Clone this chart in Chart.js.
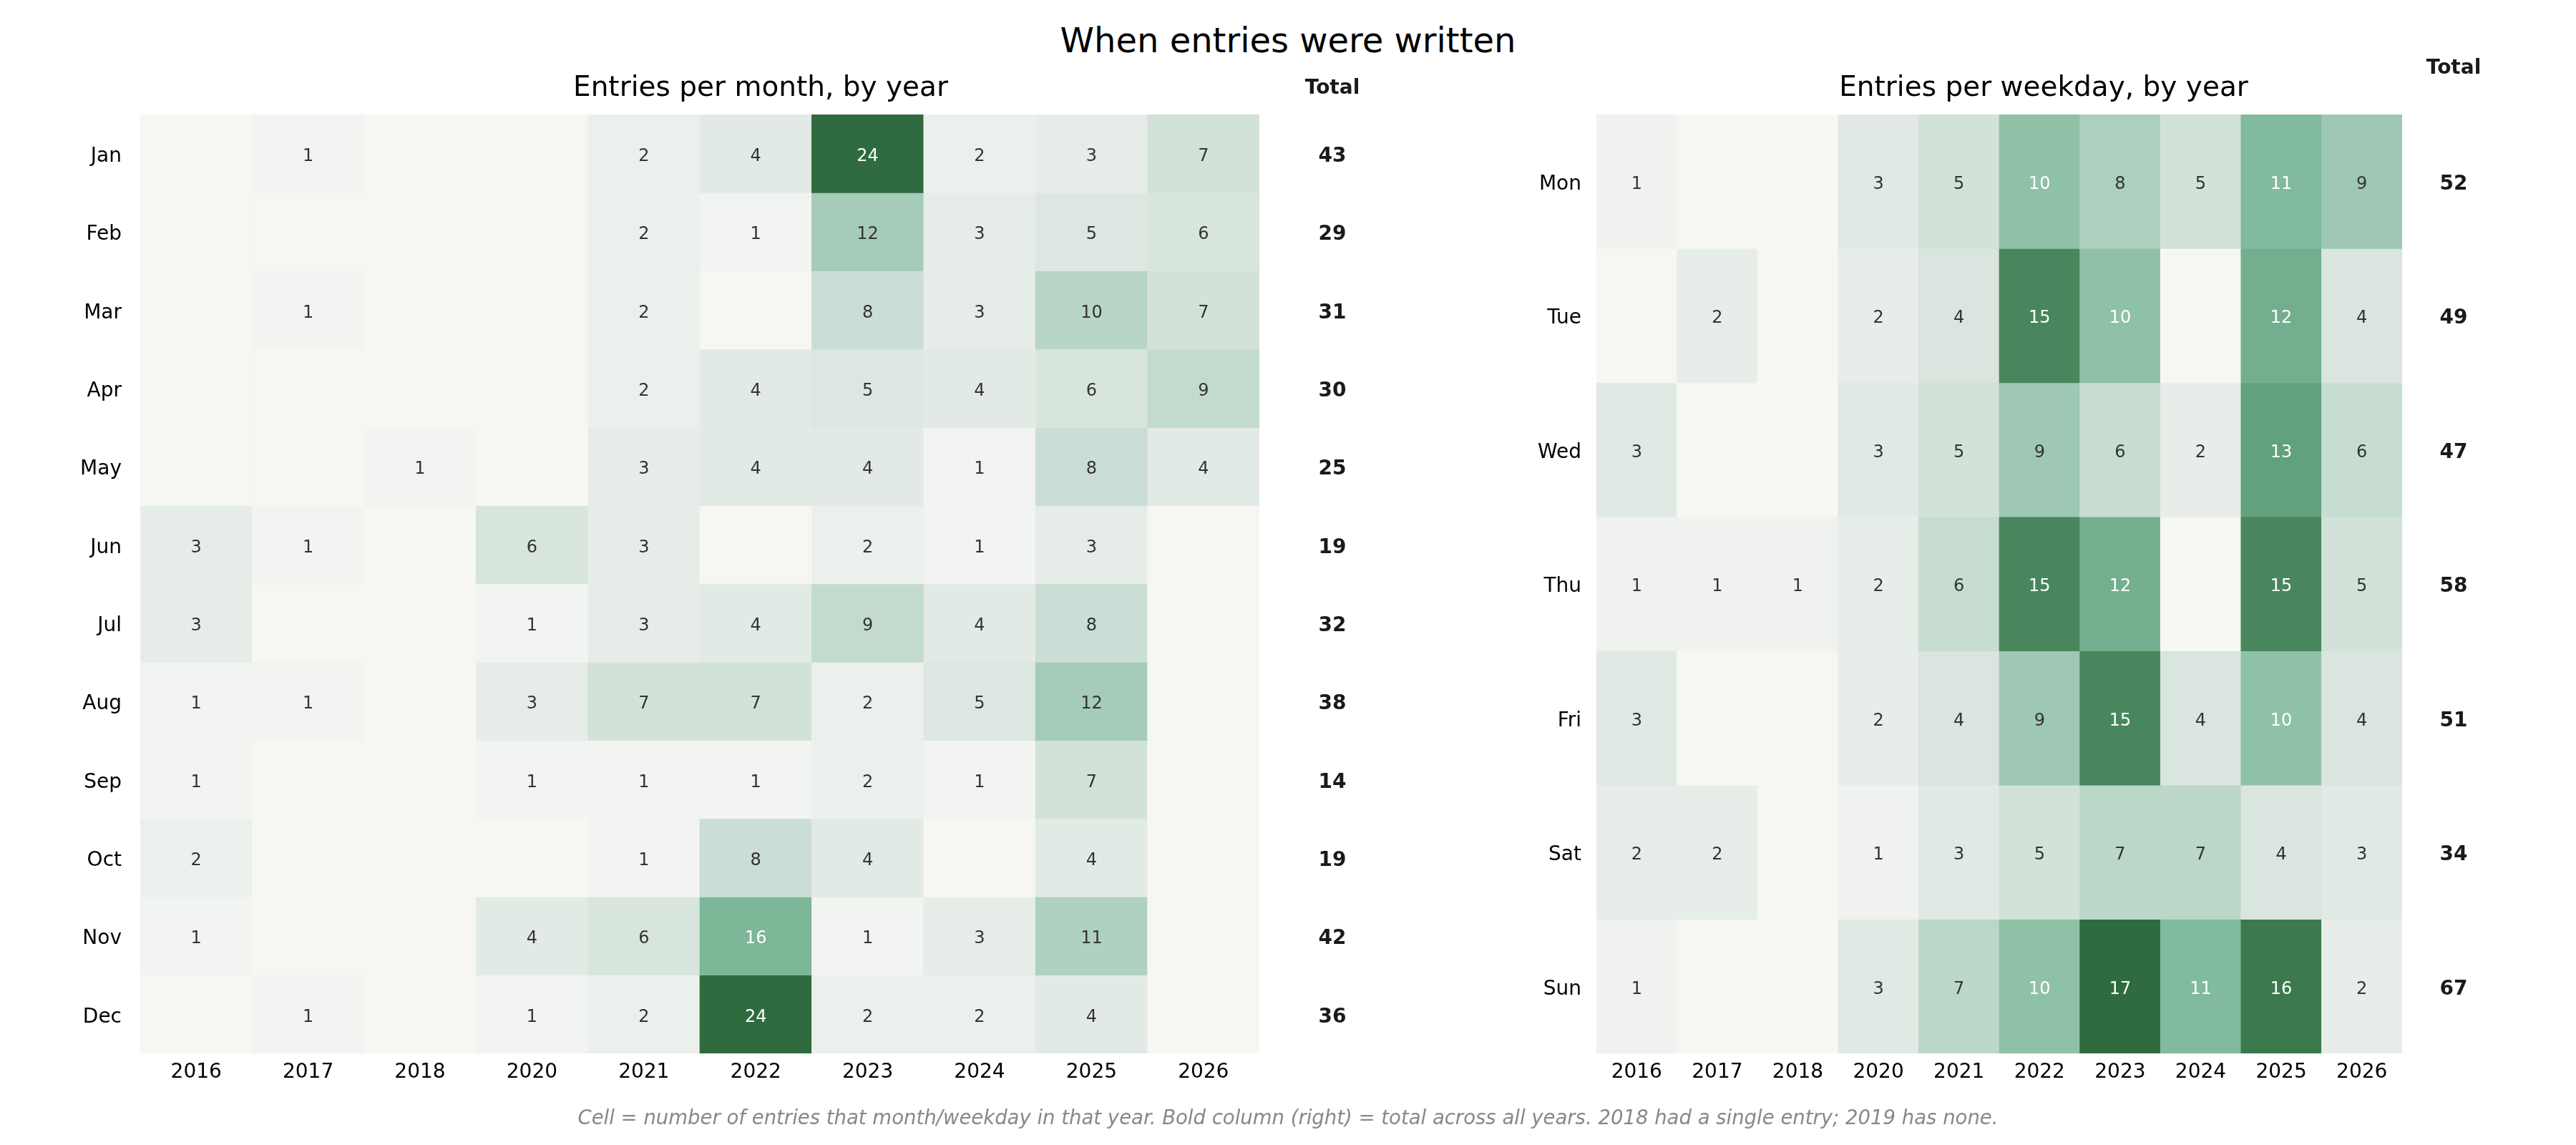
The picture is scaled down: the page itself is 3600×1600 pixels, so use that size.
<!DOCTYPE html>
<html>
<head>
<meta charset="utf-8">
<title>When entries were written</title>
<script src="https://cdn.jsdelivr.net/npm/chart.js@4.4.1/dist/chart.umd.min.js"></script>
<style>
    html, body { margin: 0; padding: 0; background: #ffffff; }
    body { width: 3600px; height: 1600px; position: relative; overflow: hidden; font-family: 'DejaVu Sans', sans-serif; }
    canvas { position: absolute; top: 0; }
    #leftChart { left: 0; }
    #rightChart { left: 2000px; }
    .suptitle {
        position: absolute; left: 0; width: 3600px; top: 28px;
        text-align: center; font-size: 48px; line-height: 56px; color: #000;
    }
    .footnote {
        position: absolute; left: 0; width: 3600px; top: 1544px;
        text-align: center; font-size: 27.5px; line-height: 34px; font-style: italic; color: #888888;
    }
</style>
</head>
<body>
<div class="suptitle">When entries were written</div>
<canvas id="leftChart" width="2000" height="1600"></canvas>
<canvas id="rightChart" width="1600" height="1600"></canvas>
<div class="footnote">Cell = number of entries that month/weekday in that year. Bold column (right) = total across all years. 2018 had a single entry; 2019 has none.</div>

<script>
// Column labels (2019 has no entries, so it is left out)
const YEARS = ['2016', '2017', '2018', '2020', '2021', '2022', '2023', '2024', '2025', '2026'];
const MONTHS = ['Jan', 'Feb', 'Mar', 'Apr', 'May', 'Jun', 'Jul', 'Aug', 'Sep', 'Oct', 'Nov', 'Dec'];
const WEEKDAYS = ['Mon', 'Tue', 'Wed', 'Thu', 'Fri', 'Sat', 'Sun'];

// Entries per month (rows) and year (columns)
const monthCounts = [
    [0, 1, 0, 0, 2, 4, 24, 2, 3, 7],
    [0, 0, 0, 0, 2, 1, 12, 3, 5, 6],
    [0, 1, 0, 0, 2, 0, 8, 3, 10, 7],
    [0, 0, 0, 0, 2, 4, 5, 4, 6, 9],
    [0, 0, 1, 0, 3, 4, 4, 1, 8, 4],
    [3, 1, 0, 6, 3, 0, 2, 1, 3, 0],
    [3, 0, 0, 1, 3, 4, 9, 4, 8, 0],
    [1, 1, 0, 3, 7, 7, 2, 5, 12, 0],
    [1, 0, 0, 1, 1, 1, 2, 1, 7, 0],
    [2, 0, 0, 0, 1, 8, 4, 0, 4, 0],
    [1, 0, 0, 4, 6, 16, 1, 3, 11, 0],
    [0, 1, 0, 1, 2, 24, 2, 2, 4, 0]
];
const monthTotals = [43, 29, 31, 30, 25, 19, 32, 38, 14, 19, 42, 36];

// Entries per weekday (rows) and year (columns)
const weekdayCounts = [
    [1, 0, 0, 3, 5, 10, 8, 5, 11, 9],
    [0, 2, 0, 2, 4, 15, 10, 0, 12, 4],
    [3, 0, 0, 3, 5, 9, 6, 2, 13, 6],
    [1, 1, 1, 2, 6, 15, 12, 0, 15, 5],
    [3, 0, 0, 2, 4, 9, 15, 4, 10, 4],
    [2, 2, 0, 1, 3, 5, 7, 7, 4, 3],
    [1, 0, 0, 3, 7, 10, 17, 11, 16, 2]
];
const weekdayTotals = [52, 49, 47, 58, 51, 34, 67];

// Light-to-dark green colour ramp, [position, r, g, b]
const GREEN_RAMP = [
    [0.00, 246, 247, 243],
    [0.06, 239, 242, 238],
    [0.12, 231, 237, 232],
    [0.18, 224, 233, 228],
    [0.29, 211, 226, 217],
    [0.35, 200, 221, 211],
    [0.41, 186, 215, 200],
    [0.50, 165, 203, 185],
    [0.59, 143, 193, 167],
    [0.65, 128, 186, 156],
    [0.71, 114, 174, 141],
    [0.76, 99, 162, 126],
    [0.88, 74, 135, 94],
    [0.94, 60, 122, 78],
    [1.00, 47, 107, 62]
];

Chart.defaults.font.family = "'DejaVu Sans', sans-serif";

function rampColor(t) {
    t = Math.max(0, Math.min(1, t));
    for (let i = 1; i < GREEN_RAMP.length; i++) {
        const a = GREEN_RAMP[i - 1];
        const b = GREEN_RAMP[i];
        if (t <= b[0]) {
            const f = (t - a[0]) / (b[0] - a[0]);
            const c = [1, 2, 3].map(k => Math.round(a[k] + (b[k] - a[k]) * f));
            return `rgb(${c[0]}, ${c[1]}, ${c[2]})`;
        }
    }
    return 'rgb(47, 107, 62)';
}

// Draws cell numbers, the bold total column and the panel title
const heatTextPlugin = {
    id: 'heatText',
    afterDatasetsDraw(chart, args, opts) {
        const ctx = chart.ctx;
        const area = chart.chartArea;
        const yScale = chart.scales.y;
        const maxVal = Math.max(...opts.counts.flat());
        const nudge = 4; // match matplotlib's centred text

        ctx.save();
        ctx.textAlign = 'center';
        ctx.textBaseline = 'middle';

        // cell values
        ctx.font = "24px 'DejaVu Sans'";
        chart.data.datasets.forEach((ds, r) => {
            const meta = chart.getDatasetMeta(r);
            meta.data.forEach((bar, c) => {
                const v = opts.counts[r][c];
                if (!v) return;
                ctx.fillStyle = v / maxVal > 0.55 ? '#ffffff' : '#333333';
                ctx.fillText(String(v), bar.x, (bar.y + bar.base) / 2 + nudge);
            });
        });

        // totals column
        ctx.font = "bold 28px 'DejaVu Sans'";
        ctx.fillStyle = '#1a1a1a';
        const tx = area.right + opts.totalOffset;
        opts.totals.forEach((t, r) => {
            ctx.fillText(String(t), tx, yScale.getPixelForValue(r + 0.5) + nudge);
        });
        ctx.fillText('Total', tx, opts.totalHeaderY + nudge);

        // panel title
        ctx.font = "39px 'DejaVu Sans'";
        ctx.fillStyle = '#000000';
        ctx.fillText(opts.title, opts.titleX, opts.titleY + nudge);
        ctx.restore();
    }
};

function makeHeatmap(canvasId, rowLabels, counts, totals, cfg) {
    const maxVal = Math.max(...counts.flat());
    const datasets = rowLabels.map((label, r) => ({
        label: label,
        data: YEARS.map(() => [r, r + 1]),
        backgroundColor: counts[r].map(v => rampColor(v / maxVal)),
        borderWidth: 0,
        grouped: false,
        barPercentage: 1,
        categoryPercentage: 1
    }));

    return new Chart(document.getElementById(canvasId), {
        type: 'bar',
        data: { labels: YEARS, datasets: datasets },
        plugins: [heatTextPlugin],
        options: {
            responsive: false,
            devicePixelRatio: 1,
            animation: false,
            events: [],
            layout: { padding: cfg.padding },
            plugins: {
                legend: { display: false },
                tooltip: { enabled: false },
                title: { display: false },
                heatText: {
                    counts: counts,
                    totals: totals,
                    title: cfg.title,
                    titleX: cfg.titleX,
                    titleY: 120,
                    totalOffset: cfg.totalOffset,
                    totalHeaderY: cfg.totalHeaderY
                }
            },
            scales: {
                x: {
                    type: 'category',
                    offset: true,
                    grid: { display: false, drawTicks: false },
                    border: { display: false },
                    ticks: { color: '#000000', font: { size: 28 }, padding: 10, maxRotation: 0, autoSkip: false },
                    afterFit: scale => { scale.height = 60; }
                },
                y: {
                    type: 'linear',
                    min: 0,
                    max: rowLabels.length,
                    reverse: true,
                    grid: { display: false, drawTicks: false },
                    border: { display: false },
                    afterBuildTicks: scale => {
                        scale.ticks = rowLabels.map((_, i) => ({ value: i + 0.5 }));
                    },
                    ticks: {
                        color: '#000000',
                        font: { size: 28 },
                        padding: cfg.yPad,
                        labelOffset: 4,
                        autoSkip: false,
                        callback: (value, index) => rowLabels[index]
                    },
                    afterFit: scale => { scale.width = cfg.yAxisWidth; }
                }
            }
        }
    });
}

document.addEventListener('DOMContentLoaded', () => {
    makeHeatmap('leftChart', MONTHS, monthCounts, monthTotals, {
        title: 'Entries per month, by year',
        titleX: 1063,
        padding: { left: 0, top: 160, right: 240, bottom: 68 },
        yAxisWidth: 196,
        yPad: 26,
        totalOffset: 102,
        totalHeaderY: 120
    });
    makeHeatmap('rightChart', WEEKDAYS, weekdayCounts, weekdayTotals, {
        title: 'Entries per weekday, by year',
        titleX: 856,
        padding: { left: 0, top: 160, right: 243, bottom: 68 },
        yAxisWidth: 231,
        yPad: 21,
        totalOffset: 72,
        totalHeaderY: 92
    });
});
</script>
</body>
</html>
